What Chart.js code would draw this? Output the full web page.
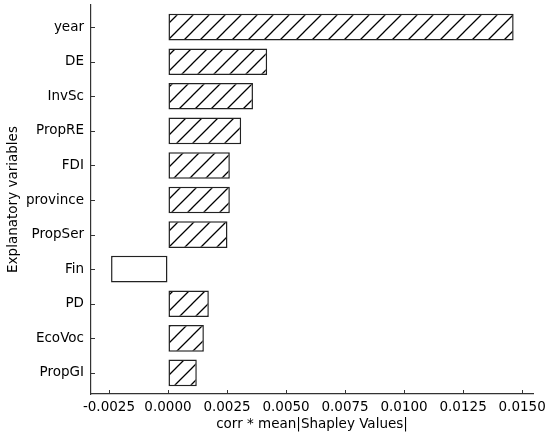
<!DOCTYPE html>
<html>
<head>
<meta charset="utf-8">
<script src="https://cdn.jsdelivr.net/npm/chart.js@4/dist/chart.umd.min.js"></script>
<style>
  html, body { margin: 0; padding: 0; background: #fff; }
  #wrap { width: 550px; height: 439px; }
</style>
</head>
<body>
<div id="wrap"><canvas id="shap"></canvas></div>
<script>
const variables = ['year', 'DE', 'InvSc', 'PropRE', 'FDI', 'province', 'PropSer', 'Fin', 'PD', 'EcoVoc', 'PropGI'];
const shapValues = [0.01464, 0.0042, 0.0036, 0.0031, 0.00262, 0.00262, 0.00252, -0.00241, 0.00173, 0.00152, 0.00122];
const xTicks = [-0.0025, 0.0000, 0.0025, 0.0050, 0.0075, 0.0100, 0.0125, 0.0150];

// diagonal hatch like matplotlib '/'
function hatch() {
    const c = document.createElement('canvas');
    c.width = 16; c.height = 16;
    const g = c.getContext('2d');
    g.fillStyle = '#fff';
    g.fillRect(0, 0, 16, 16);
    g.strokeStyle = '#000';
    g.lineWidth = 1.3;
    g.beginPath();
    g.moveTo(-2, 18); g.lineTo(18, -2);
    g.moveTo(-2, 2); g.lineTo(2, -2);
    g.moveTo(14, 18); g.lineTo(18, 14);
    g.stroke();
    return g.createPattern(c, 'repeat');
}
const pat = hatch();

// matplotlib style inward ticks
const innerTicks = {
    id: 'innerTicks',
    afterDraw(chart) {
        const g = chart.ctx, a = chart.chartArea;
        const xs = chart.scales.x, ys = chart.scales.y;
        g.save();
        g.strokeStyle = '#333';
        g.lineWidth = 1;
        g.beginPath();
        xs.ticks.forEach(t => {
            const px = Math.round(xs.getPixelForValue(t.value)) + 0.5;
            g.moveTo(px, a.bottom); g.lineTo(px, a.bottom - 4);
        });
        ys.ticks.forEach(t => {
            const py = Math.round(ys.getPixelForValue(t.value)) + 0.5;
            g.moveTo(a.left, py); g.lineTo(a.left + 4, py);
        });
        g.stroke();
        g.restore();
    }
};

const font = { family: 'DejaVu Sans', size: 13.5 };

new Chart(document.getElementById('shap'), {
    type: 'bar',
    data: {
        datasets: [{
            data: variables.map((v, i) => ({ x: shapValues[i], y: i })),
            backgroundColor: shapValues.map(v => v < 0 ? '#fff' : pat),
            borderColor: '#222',
            borderWidth: 1.5,
            borderSkipped: false,
            barPercentage: 0.77,
            categoryPercentage: 1
        }]
    },
    plugins: [innerTicks],
    options: {
        indexAxis: 'y',
        responsive: true,
        maintainAspectRatio: false,
        animation: false,
        layout: { padding: { top: 5, right: 17, left: 0, bottom: 0 } },
        plugins: { legend: { display: false }, tooltip: { enabled: false } },
        scales: {
            x: {
                type: 'linear',
                offset: false,
                min: -0.00326,
                max: 0.01546,
                afterBuildTicks: s => { s.ticks = xTicks.map(v => ({ value: v })); },
                afterFit: s => { s.height = 45; s.paddingRight = 0; },
                ticks: {
                    color: '#000', font: font, padding: 5, maxRotation: 0,
                    callback: v => v.toFixed(4)
                },
                grid: { display: true, drawOnChartArea: false, drawTicks: false, offset: false },
                border: { display: true, color: '#333', width: 1.2 },
                title: {
                    display: true, text: 'corr * mean|Shapley Values|',
                    color: '#000', font: font, padding: { top: 1, bottom: 6 }
                }
            },
            y: {
                type: 'linear',
                reverse: true,
                offset: false,
                min: -0.64,
                max: 10.61,
                afterBuildTicks: s => { s.ticks = variables.map((v, i) => ({ value: i })); },
                afterFit: s => { s.width = 91; s.paddingTop = 0; s.paddingBottom = 0; },
                ticks: {
                    color: '#000', font: font, padding: 7,
                    callback: v => variables[v]
                },
                grid: { display: true, drawOnChartArea: false, drawTicks: false, offset: false },
                border: { display: true, color: '#333', width: 1.2 },
                title: {
                    display: true, text: 'Explanatory variables',
                    color: '#000', font: font, padding: { top: 5, bottom: 2 }
                }
            }
        }
    }
});
</script>
</body>
</html>
